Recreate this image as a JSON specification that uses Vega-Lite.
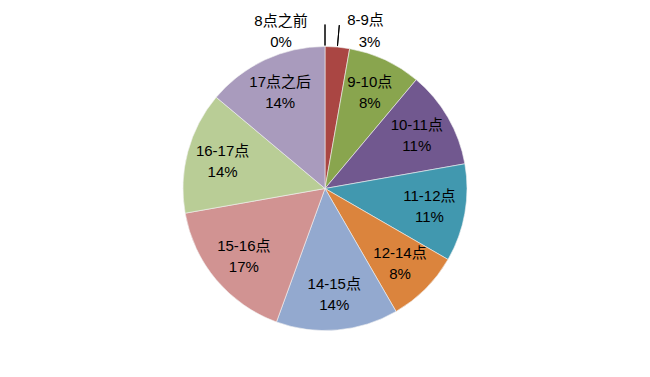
{
  "$schema": "https://vega.github.io/schema/vega-lite/v6.json",
  "width": 650,
  "height": 377,
  "autosize": {"type": "fit", "contains": "padding"},
  "padding": 0,
  "background": "#ffffff",
  "view": {"stroke": null},
  "config": {"text": {"font": "Liberation Sans, Noto Sans CJK SC", "fontSize": 15, "fill": "#000000"}},
  "data": {"values": [
    {"idx": 0, "name": "8点之前", "value": 0, "pct": "0%"},
    {"idx": 1, "name": "8-9点", "value": 2.78, "pct": "3%"},
    {"idx": 2, "name": "9-10点", "value": 8.33, "pct": "8%"},
    {"idx": 3, "name": "10-11点", "value": 11.11, "pct": "11%"},
    {"idx": 4, "name": "11-12点", "value": 11.11, "pct": "11%"},
    {"idx": 5, "name": "12-14点", "value": 8.33, "pct": "8%"},
    {"idx": 6, "name": "14-15点", "value": 13.89, "pct": "14%"},
    {"idx": 7, "name": "15-16点", "value": 16.67, "pct": "17%"},
    {"idx": 8, "name": "16-17点", "value": 13.89, "pct": "14%"},
    {"idx": 9, "name": "17点之后", "value": 13.89, "pct": "14%"}
  ]},
  "encoding": {
    "theta": {"field": "value", "type": "quantitative", "stack": true},
    "order": {"field": "idx", "type": "quantitative"}
  },
  "layer": [
    {
      "mark": {"type": "arc", "radius": 142, "stroke": "#f2f2f2", "strokeWidth": 0.6},
      "encoding": {
        "color": {
          "field": "name", "type": "nominal", "legend": null,
          "scale": {
            "domain": ["8点之前", "8-9点", "9-10点", "10-11点", "11-12点", "12-14点", "14-15点", "15-16点", "16-17点", "17点之后"],
            "range": ["#4572A7", "#AA4643", "#89A54E", "#71588F", "#4198AF", "#DB843D", "#93A9CF", "#D19392", "#B9CD96", "#A99BBD"]
          }
        }
      }
    },
    {
      "mark": {"type": "arc", "radius": 164, "radius2": 143, "padAngle": 0.5, "fill": null, "stroke": "#000000", "strokeWidth": 1},
      "encoding": {
        "opacity": {"condition": {"test": "datum.name === '8点之前' || datum.name === '8-9点'", "value": 1}, "value": 0}
      }
    },
    {
      "mark": {"type": "text", "radius": 106, "dy": -10.5},
      "encoding": {
        "text": {"condition": {"test": "datum.value > 2 && datum.name !== '8-9点'", "field": "name"}, "value": ""}
      }
    },
    {
      "mark": {"type": "text", "radius": 106, "dy": 10.5},
      "encoding": {
        "text": {"condition": {"test": "datum.value > 2 && datum.name !== '8-9点'", "field": "pct"}, "value": ""}
      }
    },
    {
      "mark": {"type": "text", "radius": 155, "dx": -44, "dy": -13},
      "encoding": {
        "text": {"condition": {"test": "datum.name === '8点之前'", "field": "name"}, "value": ""}
      }
    },
    {
      "mark": {"type": "text", "radius": 155, "dx": -44, "dy": 8},
      "encoding": {
        "text": {"condition": {"test": "datum.name === '8点之前'", "field": "pct"}, "value": ""}
      }
    },
    {
      "mark": {"type": "text", "radius": 155, "dx": 27, "dy": -14},
      "encoding": {
        "text": {"condition": {"test": "datum.name === '8-9点'", "field": "name"}, "value": ""}
      }
    },
    {
      "mark": {"type": "text", "radius": 155, "dx": 31, "dy": 8},
      "encoding": {
        "text": {"condition": {"test": "datum.name === '8-9点'", "field": "pct"}, "value": ""}
      }
    }
  ]
}
